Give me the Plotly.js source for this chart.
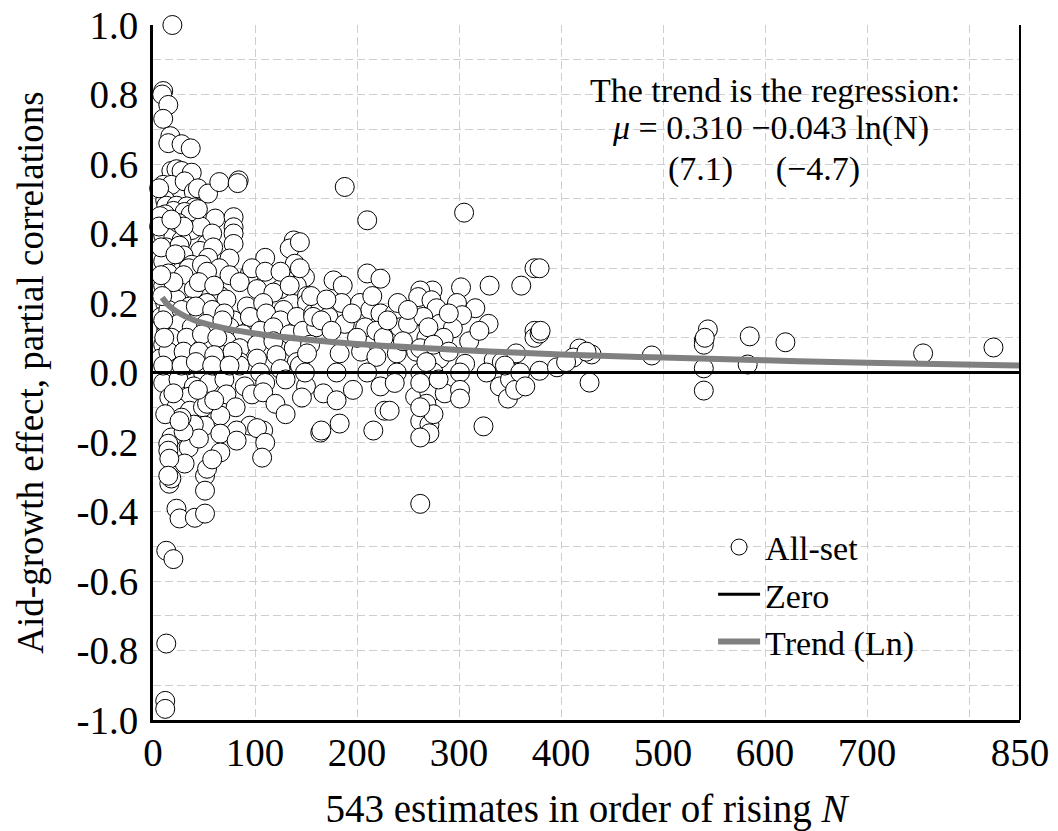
<!DOCTYPE html>
<html>
<head>
<meta charset="utf-8">
<script src="https://cdn.plot.ly/plotly-3.0.1.min.js"></script>
<style>html,body{margin:0;padding:0;background:#fff;}#chart{width:1058px;height:831px;}</style>
</head>
<body>
<div id="chart"></div>
<script>
// ---- All-set estimates (position in order of rising N, partial correlation) ----
const allX = [
  // upper-left strip
  19,10,9,15,10,17,15,28,37,
  18,23,28,38,10,18,31,40,44,54,65,84,83,
  12,13,23,33,41,20,31,37,12,61,79,79,79,38,
  10,20,28,53,47,25,58,13,26,46,59,79,
  15,30,54,75,10,38,65,95,6,7,6,8,
  22,35,48,30,18,44,
  // upper middle x 100-160
  138,134,110,139,147,144,149,114,125,141,97,110,125,144,
  // rows x 0-160, y 0.3..0
  15,30,53,75,
  10,27,40,66,85,102,118,134,151,
  12,23,36,53,72,92,108,128,151,
  8,20,33,46,62,79,95,111,125,141,157,
  13,30,43,59,75,88,105,118,134,147,160,
  10,27,40,53,72,85,102,118,138,154,
  7,23,36,53,69,85,102,121,141,
  17,33,49,66,85,105,125,144,
  10,25,40,55,70,90,110,130,150,
  20,45,60, 15,28,42,58,70, 12,25,38,52,68, 18,33,48,63, 15,30,45,60,78, 10,28,42,58,75,
  8,9,10,11,
  // negatives x 0-170
  16,35,72,97,108,146,23,36,49,53,81,66,
  51,95,108,102,82,66,82,110,107,66,35,18,15,31,15,16,164,
  16,18,15,51,53,51,23,26,41,51,13,20,13,12,12,
  40,28,60,120,130,45,58,30,
  12,20,26,44,
  // middle x 150-380
  188,210,305,374,210,223,177,186,330,361,302,274,262,
  185,203,213,223,164,172,157,237,260,273,278,298,316,303,329,374,374,188,165,208,219,242,226,257,268,281,294,
  183,151,204,219,239,258,271,281,306,334,342,356,379,
  149,180,210,239,262,275,301,327,356,
  167,196,180,223,237,227,232,257,271,286,301,301,340,348,
  165,183,216,262,271,271,262,324,262,
  195,230,250,265,270,285,290,175,200,245,262,268,275,262,268,275,262,280,290,310,320,350,355,345,360,365,155,170,215,240,250,
  // right part
  379,379,396,418,430,412,428,405,425,380,
  489,540,544,540,541,540,540,585,583,620,755,824
];
const allY = [
  1.00,0.81,0.80,0.77,0.73,0.68,0.66,0.657,0.645,
  0.58,0.585,0.58,0.575,0.54,0.54,0.55,0.52,0.53,0.515,0.548,0.553,0.545,
  0.496,0.48,0.48,0.478,0.475,0.465,0.462,0.455,0.455,0.443,0.447,0.418,0.40,0.41,
  0.395,0.39,0.38,0.37,0.42,0.43,0.40,0.36,0.365,0.35,0.36,0.37,
  0.33,0.337,0.33,0.328,0.32,0.31,0.30,0.285,0.53,0.45,0.42,0.36,
  0.34,0.30,0.31,0.42,0.44,0.47,
  0.38,0.357,0.33,0.313,0.28,0.375,0.274,0.26,0.24,0.25,0.30,0.29,0.29,0.30,
  0.285,0.28,0.29,0.28,
  0.25,0.23,0.24,0.22,0.26,0.24,0.23,0.25,0.22,
  0.20,0.21,0.19,0.20,0.21,0.19,0.20,0.18,0.20,
  0.16,0.17,0.15,0.16,0.17,0.15,0.16,0.17,0.15,0.16,0.17,
  0.12,0.13,0.11,0.12,0.13,0.11,0.12,0.13,0.11,0.12,0.13,
  0.08,0.09,0.07,0.08,0.09,0.07,0.08,0.09,0.07,0.08,
  0.04,0.05,0.03,0.04,0.05,0.03,0.04,0.05,0.03,
  0.01,0.02,0.00,0.01,0.02,0.00,0.01,0.02,
  -0.03,-0.02,-0.04,-0.03,-0.02,-0.04,-0.03,-0.02,-0.04,
  0.26,0.26,0.25, 0.18,0.18,0.19,0.18,0.17, 0.14,0.14,0.13,0.14,0.15, 0.10,0.10,0.11,0.10, 0.06,0.06,0.06,0.05,0.06, 0.02,0.02,0.03,0.02,0.02,
  0.28,0.22,0.15,0.10,
  -0.072,-0.07,-0.063,-0.063,-0.057,-0.072,-0.10,-0.11,-0.10,-0.09,-0.10,-0.124,
  -0.153,-0.153,-0.167,-0.16,-0.167,-0.176,-0.196,-0.202,-0.245,-0.23,-0.216,-0.187,-0.205,-0.262,-0.225,-0.248,-0.173,
  -0.32,-0.305,-0.297,-0.297,-0.277,-0.34,-0.392,-0.42,-0.418,-0.406,-0.513,-0.537,-0.78,-0.945,-0.968,
  -0.15,-0.13,-0.08,-0.09,-0.12,-0.19,-0.25,-0.17,
  -0.12,-0.06,-0.14,-0.05,
  0.534,0.438,0.46,0.30,0.285,0.27,0.265,0.25,0.25,0.25,0.245,0.236,0.236,
  0.20,0.20,0.18,0.17,0.18,0.16,0.16,0.17,0.217,0.208,0.185,0.20,0.185,0.165,0.14,0.12,0.10,0.14,0.15,0.13,0.12,0.13,0.10,0.11,0.10,0.14,0.127,
  0.055,0.055,0.06,0.045,0.055,0.06,0.05,0.04,0.025,0.035,0.03,0.055,0.005,
  0.0,0.0,0.0,0.0,0.0,0.0,0.0,0.0,0.0,
  -0.06,-0.05,-0.08,-0.04,-0.03,-0.11,-0.11,-0.07,-0.06,-0.06,-0.05,-0.075,-0.04,-0.075,
  -0.167,-0.147,-0.167,-0.14,-0.15,-0.175,-0.187,-0.155,-0.378,
  0.17,0.15,0.14,0.16,0.13,0.10,0.17,0.12,0.10,0.09,0.07,0.03,0.08,-0.03,-0.09,-0.12,-0.10,-0.02,0.06,0.09,0.12,-0.02,-0.05,0.02,0.0,-0.04,0.22,0.21,0.22,0.20,0.18,
  0.30,0.112,0.015,0.069,0.052,0.043,-0.029,0.03,0.06,0.12,
  0.049,0.092,0.124,0.08,0.10,0.012,-0.052,0.104,0.023,0.087,0.055,0.072
];

// ---- Zero reference line ----
const zeroX = [0, 850];
const zeroY = [0, 0];

// ---- Trend (Ln) ----
const trendX = [9, 15, 25, 40, 60, 100, 150, 200, 300, 400, 500, 600, 700, 850];
const trendY = [0.216, 0.194, 0.172, 0.151, 0.134, 0.112, 0.095, 0.082, 0.065, 0.052, 0.043, 0.035, 0.028, 0.020];

// ---- Axis ticks ----
const xTickVals = [0, 100, 200, 300, 400, 500, 600, 700, 850];
const xTickText = ['0', '100', '200', '300', '400', '500', '600', '700', '850'];
const yTickVals = [-1, -0.8, -0.6, -0.4, -0.2, 0, 0.2, 0.4, 0.6, 0.8, 1];
const yTickText = ['-1.0', '-0.8', '-0.6', '-0.4', '-0.2', '0.0', '0.2', '0.4', '0.6', '0.8', '1.0'];

// ---- Annotation lines ----
const noteLines = [
  'The trend is the regression:',
  '<i>μ</i> = 0.310 −0.043 ln(N)',
  '(7.1)\u00a0\u00a0\u00a0\u00a0\u00a0(−4.7)'
];

const SERIF = "'Liberation Serif', 'Times New Roman', serif";
const GRID = '#cfcfcf';

const traces = [
  {
    type: 'scatter', mode: 'markers', name: 'All-set', x: allX, y: allY,
    legendgroup: 'a', cliponaxis: false,
    marker: {symbol: 'circle', size: 19, color: '#ffffff', line: {color: '#000000', width: 1}}
  },
  {
    type: 'scatter', mode: 'lines', name: 'Zero', x: zeroX, y: zeroY,
    legendgroup: 'b', line: {color: '#000000', width: 3}
  },
  {
    type: 'scatter', mode: 'lines', name: 'Trend (Ln)', x: trendX, y: trendY,
    legendgroup: 'c', line: {color: '#808080', width: 6, shape: 'spline'}
  }
];

const noteY = [0.906, 0.852, 0.793];
const noteX = [0.717, 0.712, 0.705];

const layout = {
  width: 1058, height: 831,
  margin: {l: 153, r: 38, t: 25, b: 111},
  paper_bgcolor: '#ffffff', plot_bgcolor: '#ffffff',
  font: {family: SERIF, color: '#000000', size: 34},
  showlegend: true,
  legend: {
    x: 0.646, y: 0.29, xanchor: 'left', yanchor: 'top',
    bgcolor: 'rgba(0,0,0,0)', borderwidth: 0,
    font: {family: SERIF, size: 34, color: '#000000'},
    tracegroupgap: 0, itemwidth: 42
  },
  xaxis: {
    range: [0, 850], tickmode: 'array', tickvals: xTickVals, ticktext: xTickText,
    showline: true, linecolor: '#000000', linewidth: 3,
    ticks: '', ticklabelstandoff: -4, zeroline: false,
    showgrid: true, gridcolor: GRID, griddash: '8px,4px', gridwidth: 1,
    minor: {dtick: 100, showgrid: true, gridcolor: GRID, griddash: '8px,4px', gridwidth: 1},
    tickfont: {family: SERIF, size: 39, color: '#000000'},
    title: {text: '543 estimates in order of rising <i>N</i>', font: {family: SERIF, size: 39, color: '#000000'}, standoff: 28}
  },
  yaxis: {
    range: [-1, 1], tickmode: 'array', tickvals: yTickVals, ticktext: yTickText,
    showline: true, linecolor: '#000000', linewidth: 3,
    ticks: '', ticklabelstandoff: 4, zeroline: false,
    showgrid: true, gridcolor: GRID, griddash: '8px,4px', gridwidth: 1,
    minor: {dtick: 0.1, showgrid: true, gridcolor: GRID, griddash: '8px,4px', gridwidth: 1},
    tickfont: {family: SERIF, size: 39, color: '#000000'},
    title: {text: 'Aid-growth effect, partial correlations', font: {family: SERIF, size: 37, color: '#000000'}, standoff: 22}
  },
  shapes: [
    {type: 'line', xref: 'paper', yref: 'paper', x0: 1, x1: 1, y0: 0, y1: 1, line: {color: '#000000', width: 2}}
  ],
  annotations: noteLines.map((t, i) => ({
    xref: 'paper', yref: 'paper', x: noteX[i], y: noteY[i], xanchor: 'center', yanchor: 'middle',
    showarrow: false, align: 'center',
    font: {family: SERIF, size: 34, color: '#000000'},
    text: t
  }))
};

Plotly.newPlot('chart', traces, layout, {displayModeBar: false, staticPlot: true});
</script>
</body>
</html>
